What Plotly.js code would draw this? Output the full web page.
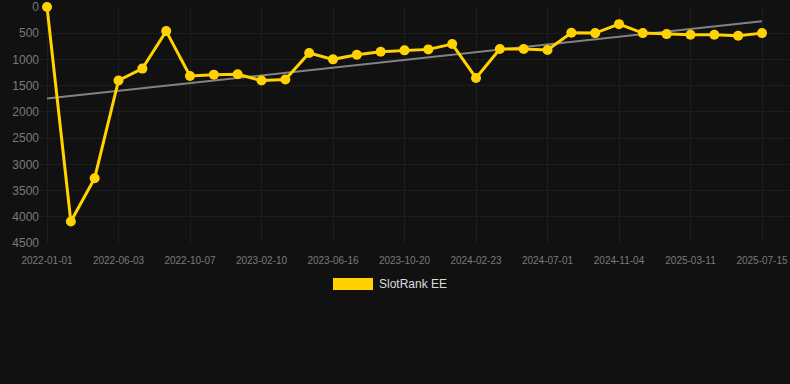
<!DOCTYPE html>
<html>
<head>
<meta charset="utf-8">
<script src="https://cdn.plot.ly/plotly-3.0.1.min.js"></script>
<style>
html,body{margin:0;padding:0;background:#111111;}
#chart{width:790px;height:384px;}
</style>
</head>
<body>
<div id="chart"></div>
<script>
const dates = [
  "2022-01-01","2022-02-21","2022-04-13","2022-06-03","2022-07-15","2022-08-26",
  "2022-10-07","2022-11-18","2022-12-30","2023-02-10","2023-03-24","2023-05-05",
  "2023-06-16","2023-07-28","2023-09-08","2023-10-20","2023-12-01","2024-01-12",
  "2024-02-23","2024-04-06","2024-05-19","2024-07-01","2024-08-12","2024-09-23",
  "2024-11-04","2024-12-16","2025-01-27","2025-03-11","2025-04-22","2025-06-03",
  "2025-07-15"
];
const ranks = [
  0, 4090, 3265, 1400, 1175, 460,
  1315, 1290, 1283, 1403, 1384, 878,
  998, 909, 852, 827, 808, 707,
  1353, 802, 802, 821, 491, 498,
  327, 498, 517, 528, 528, 548,
  498
];
const tickDates = [
  "2022-01-01","2022-06-03","2022-10-07","2023-02-10","2023-06-16","2023-10-20",
  "2024-02-23","2024-07-01","2024-11-04","2025-03-11","2025-07-15"
];
const yTicks = [0,500,1000,1500,2000,2500,3000,3500,4000,4500];
const seriesName = "SlotRank EE";

// linear regression trend over point index
const n = ranks.length;
let sx=0, sy=0, sxy=0, sxx=0;
ranks.forEach((v,i)=>{ sx+=i; sy+=v; sxy+=i*v; sxx+=i*i; });
const slope = (n*sxy - sx*sy)/(n*sxx - sx*sx);
const intercept = (sy - slope*sx)/n;
const trendX = [dates[0], dates[n-1]];
const trendY = [intercept, intercept + slope*(n-1)];

const yellow = "rgb(255,210,0)";

const traces = [
  {
    x: trendX, y: trendY, type: "scatter", mode: "lines",
    line: {color: "rgba(150,150,150,0.85)", width: 2},
    hoverinfo: "skip", showlegend: false
  },
  {
    x: dates, y: ranks, type: "scatter", mode: "lines+markers",
    name: seriesName,
    line: {color: yellow, width: 3},
    marker: {color: yellow, size: 10},
    cliponaxis: false, showlegend: false
  }
];

const layout = {
  width: 790, height: 384,
  paper_bgcolor: "#111111", plot_bgcolor: "#111111",
  margin: {l: 40, r: 0, t: 7, b: 141},
  font: {family: "Liberation Sans, Arial, sans-serif", color: "#888888"},
  showlegend: false,
  xaxis: {
    type: "category",
    categoryorder: "array", categoryarray: dates,
    range: [-0.294, 31.175],
    tickmode: "array", tickvals: tickDates, ticktext: tickDates,
    tickfont: {size: 10, color: "#7a7a7a"},
    ticks: "outside", ticklen: 8, tickcolor: "rgba(0,0,0,0)",
    showgrid: true, gridcolor: "#1d1d1d", gridwidth: 1,
    zeroline: false, showline: false
  },
  yaxis: {
    range: [4500, 0],
    tickmode: "array", tickvals: yTicks,
    tickfont: {size: 12, color: "#7a7a7a"},
    showgrid: true, gridcolor: "#1d1d1d", gridwidth: 1,
    zeroline: false, showline: false,
    ticks: "", ticklabelstandoff: 0
  },
  shapes: [
    {type: "rect", xref: "paper", yref: "paper",
     x0: (333-40)/750, x1: (373-40)/750,
     y0: (384-141-290)/236, y1: (384-141-278)/236,
     fillcolor: yellow, line: {width: 0}}
  ],
  annotations: [
    {text: seriesName, xref: "paper", yref: "paper",
     x: (377-40)/750, y: (384-141-284)/236,
     xanchor: "left", yanchor: "middle", showarrow: false,
     font: {size: 12, color: "#dddddd", family: "Liberation Sans, Arial, sans-serif"}}
  ]
};

Plotly.newPlot("chart", traces, layout, {displayModeBar: false, staticPlot: true});
</script>
</body>
</html>
